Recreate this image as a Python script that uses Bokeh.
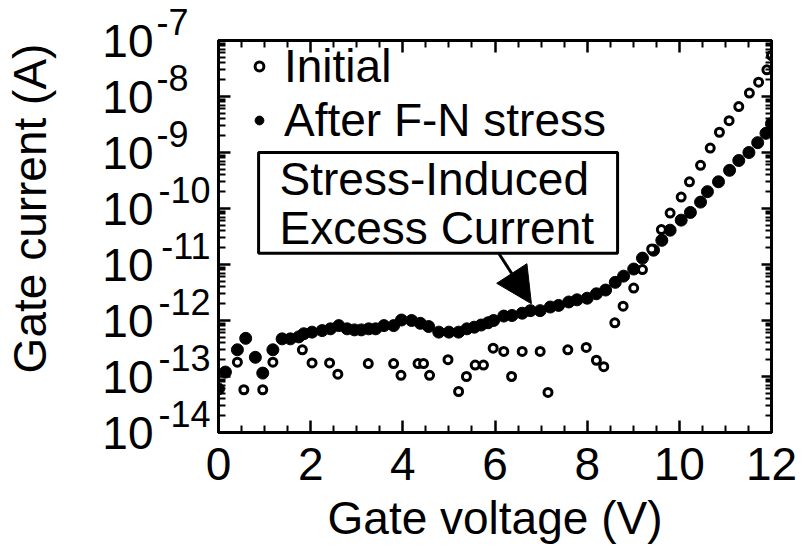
from bokeh.plotting import figure
from bokeh.models import (Range1d, FixedTicker, LogAxis, LinearAxis, Label, Legend,
                          LegendItem, BoxAnnotation, Arrow, NormalHead, CustomJSTickFormatter)
from bokeh.embed import file_html
from bokeh.resources import INLINE

FONT = "Liberation Sans"

# Gate voltage (V) / gate current (A), before stress
initial_v = [0.41, 0.55, 0.96, 1.18, 1.82, 2.03, 2.41, 2.59, 3.25, 3.80, 3.96, 4.33,
             4.45, 4.58, 4.98, 5.21, 5.38, 5.57, 5.75, 5.96, 6.19, 6.36, 6.59, 6.98,
             7.15, 7.58, 7.98, 8.20, 8.36, 8.60, 8.78, 9.01, 9.20, 9.40, 9.61, 9.80,
             10.04, 10.22, 10.46, 10.67, 10.87, 11.08, 11.29, 11.52, 11.72, 11.90, 12.00]
initial_i = [1.8e-13, 5.8e-14, 5.8e-14, 1.8e-13, 3.0e-13, 1.75e-13, 1.75e-13, 1.1e-13,
             1.7e-13, 1.7e-13, 1.05e-13, 1.7e-13, 1.7e-13, 1.05e-13, 2.0e-13, 5.4e-14,
             1.0e-13, 1.6e-13, 1.6e-13, 3.2e-13, 2.8e-13, 1.0e-13, 2.8e-13, 2.8e-13,
             5.2e-14, 3.0e-13, 3.3e-13, 1.95e-13, 1.5e-13, 9.1e-13, 1.8e-12, 3.8e-12,
             8.1e-12, 1.9e-11, 4.2e-11, 8.3e-11, 1.6e-10, 3.0e-10, 5.9e-10, 1.2e-9,
             2.3e-9, 3.7e-9, 6.6e-9, 1.15e-8, 1.8e-8, 3.0e-8, 5.4e-8]

# Gate voltage (V) / gate current (A), after Fowler-Nordheim stress
stressed_v = [0.0, 0.15, 0.41, 0.59, 0.80, 0.96, 1.18, 1.38, 1.56, 1.74, 1.85, 2.03,
              2.25, 2.43, 2.61, 2.79, 2.95, 3.10, 3.26, 3.41, 3.59, 3.80, 3.97, 4.19,
              4.38, 4.56, 4.78, 5.00, 5.21, 5.39, 5.55, 5.70, 5.85, 5.97, 6.19, 6.37,
              6.59, 6.77, 6.98, 7.20, 7.38, 7.60, 7.78, 8.00, 8.20, 8.40, 8.61, 8.79,
              9.01, 9.20, 9.44, 9.62, 9.80, 10.04, 10.24, 10.46, 10.61, 10.85, 11.09,
              11.29, 11.51, 11.70, 11.88, 12.00]
stressed_i = [6.0e-14, 1.2e-13, 3.0e-13, 4.8e-13, 2.2e-13, 1.15e-13, 3.0e-13, 4.7e-13,
              4.7e-13, 5.1e-13, 5.8e-13, 6.2e-13, 6.6e-13, 7.1e-13, 8.1e-13, 7.1e-13,
              6.8e-13, 6.8e-13, 7.1e-13, 7.1e-13, 8.1e-13, 8.1e-13, 1.02e-12, 1.0e-12,
              8.9e-13, 7.8e-13, 6.2e-13, 6.2e-13, 6.2e-13, 7.1e-13, 7.6e-13, 8.3e-13,
              9.1e-13, 1.0e-12, 1.2e-12, 1.23e-12, 1.35e-12, 1.5e-12, 1.5e-12, 1.74e-12,
              1.86e-12, 2.14e-12, 2.34e-12, 2.5e-12, 3.0e-12, 3.5e-12, 4.8e-12, 6.2e-12,
              8.3e-12, 1.3e-11, 1.8e-11, 2.7e-11, 4.1e-11, 6.2e-11, 8.5e-11, 1.3e-10,
              2.0e-10, 3.0e-10, 4.8e-10, 7.2e-10, 1.0e-9, 1.5e-9, 2.2e-9, 3.3e-9]

x_ticks = [0, 2, 4, 6, 8, 10, 12]
y_exponents = [-14, -13, -12, -11, -10, -9, -8, -7]
y_title = "Gate current (A)"
x_title = "Gate voltage (V)"

p = figure(width=808, height=550, y_axis_type="log",
           x_range=Range1d(0, 12), y_range=Range1d(1e-14, 1e-7),
           output_backend="svg", toolbar_location=None,
           min_border_left=218, min_border_right=37,
           min_border_top=40, min_border_bottom=118)
p.grid.visible = False
p.background_fill_color = "white"
p.border_fill_color = "white"
p.outline_line_color = "black"
p.outline_line_width = 3

decades = [10.0 ** e for e in y_exponents]
x_ticker = FixedTicker(ticks=x_ticks,
                       minor_ticks=[k * 0.5 for k in range(25) if k % 4])
y_ticker = FixedTicker(ticks=decades,
                       minor_ticks=[m * 10.0 ** e for e in y_exponents[:-1] for m in range(2, 10)])

blank = CustomJSTickFormatter(code="return ''")
# exponent text; the trailing empty line lifts it into superscript position
exponent = CustomJSTickFormatter(code="return Math.round(Math.log10(tick)) + '\\n'")
mantissa = CustomJSTickFormatter(code="return '10'")


def style_ticks(ax, major_in, minor_in):
    ax.axis_line_width = 3
    ax.axis_line_color = "black"
    ax.major_tick_in = major_in
    ax.major_tick_out = 0
    ax.minor_tick_in = minor_in
    ax.minor_tick_out = 0
    ax.major_tick_line_width = 2.5
    ax.minor_tick_line_width = 2
    ax.major_tick_line_color = "black"
    ax.minor_tick_line_color = "black"


def label_only(ax):
    ax.axis_line_alpha = 0
    ax.major_tick_in = 0
    ax.major_tick_out = 0
    ax.minor_tick_in = 0
    ax.minor_tick_out = 0
    ax.major_label_text_font = FONT
    ax.major_label_text_color = "black"


# bottom axis
xb = p.xaxis[0]
xb.ticker = x_ticker
style_ticks(xb, 12, 7)
xb.major_label_text_font = FONT
xb.major_label_text_font_size = "46px"
xb.major_label_text_color = "black"
xb.major_label_standoff = 15
xb.axis_label = x_title
xb.axis_label_text_font = FONT
xb.axis_label_text_font_size = "46px"
xb.axis_label_text_font_style = "normal"
xb.axis_label_text_color = "black"
xb.axis_label_standoff = 9

# left axis: ticks only
yl = p.yaxis[0]
yl.ticker = y_ticker
yl.formatter = blank
yl.major_label_standoff = 0
style_ticks(yl, 12, 7)

# exponents of the decade labels (one- and two-digit groups)
exp_single = LogAxis(ticker=FixedTicker(ticks=[d for e, d in zip(y_exponents, decades) if abs(e) < 10]),
                     formatter=exponent, major_label_standoff=30,
                     major_label_text_font_size="36px", major_label_text_line_height=0.87)
label_only(exp_single)
p.add_layout(exp_single, "left")

exp_double = LogAxis(ticker=FixedTicker(ticks=[d for e, d in zip(y_exponents, decades) if abs(e) >= 10]),
                     formatter=exponent, major_label_standoff=-57,
                     major_label_text_font_size="36px", major_label_text_line_height=0.87)
label_only(exp_double)
p.add_layout(exp_double, "left")

# the "10" of each decade label
mant_axis = LogAxis(ticker=FixedTicker(ticks=decades), formatter=mantissa,
                    major_label_standoff=0, major_label_text_font_size="46px")
label_only(mant_axis)
p.add_layout(mant_axis, "left")

# vertical y title, centred on the 1e-10 decade
title_axis = LogAxis(ticker=FixedTicker(ticks=[1e-10]),
                     formatter=CustomJSTickFormatter(args=dict(t=y_title), code="return t"),
                     major_label_orientation="vertical", major_label_standoff=44,
                     major_label_text_font_size="46px")
label_only(title_axis)
p.add_layout(title_axis, "left")

# mirrored tick axes
xt = LinearAxis(ticker=x_ticker, formatter=blank, major_label_standoff=0)
style_ticks(xt, 12, 7)
p.add_layout(xt, "above")

yr = LogAxis(ticker=y_ticker, formatter=blank, major_label_standoff=0)
style_ticks(yr, 10, 6)
p.add_layout(yr, "right")

r_fn = p.scatter(stressed_v, stressed_i, marker="circle", size=12,
                 fill_color="black", line_color="black", line_width=1)
r_init = p.scatter(initial_v, initial_i, marker="circle", size=8,
                   fill_color="white", line_color="black", line_width=3)

legend = Legend(items=[LegendItem(label="Initial", renderers=[r_init]),
                       LegendItem(label="After F-N stress", renderers=[r_fn])],
                location=(30, 285), orientation="vertical",
                border_line_alpha=0, background_fill_alpha=0,
                padding=0, margin=0, spacing=-3,
                glyph_width=22, glyph_height=52, label_standoff=14,
                label_text_font=FONT, label_text_font_size="46px",
                label_text_color="black")
p.add_layout(legend)

# callout box and arrow
p.add_layout(BoxAnnotation(left=0.87, right=8.66, top=1e-9, bottom=10 ** -10.8,
                           fill_color="white", fill_alpha=1,
                           line_color="black", line_alpha=1, line_width=3))
p.add_layout(Label(x=0.87, y=1e-9, x_offset=21, y_offset=-26, text="Stress-Induced",
                   text_align="left", text_baseline="middle",
                   text_font=FONT, text_font_size="46px", text_color="black"))
p.add_layout(Label(x=0.87, y=1e-9, x_offset=21, y_offset=-75, text="Excess Current",
                   text_align="left", text_baseline="middle",
                   text_font=FONT, text_font_size="46px", text_color="black"))
p.add_layout(Arrow(x_start=6.08, y_start=10 ** -10.8, x_end=6.79, y_end=10 ** -11.70,
                   line_color="black", line_width=3,
                   end=NormalHead(size=36, fill_color="black", line_color="black")))

open("out.html", "w").write(file_html(p, INLINE))
